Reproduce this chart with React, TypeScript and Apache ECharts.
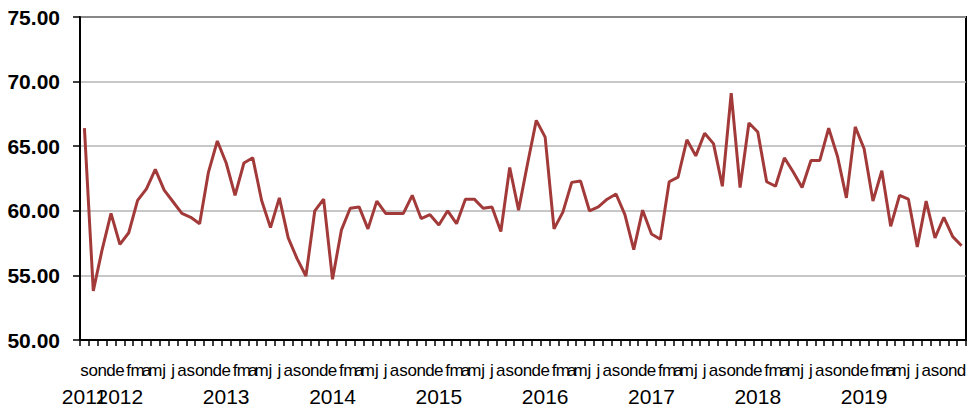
import React, { useEffect, useRef } from "react";
import * as echarts from "echarts";

const monthLetters = ["e", "f", "m", "a", "m", "j", "j", "a", "s", "o", "n", "d"];
const startYear = 2011;
const startMonth = 8; // September (0-based)

const values2011 = [66.4, 53.8, 57.0, 59.8];
const values2012 = [57.4, 58.3, 60.8, 61.7, 63.2, 61.6, 60.7, 59.8, 59.5, 59.0, 63.0, 65.4];
const values2013 = [63.7, 61.2, 63.7, 64.1, 60.8, 58.7, 61.0, 57.9, 56.3, 54.95, 60.0, 60.9];
const values2014 = [54.7, 58.5, 60.2, 60.3, 58.6, 60.75, 59.8, 59.8, 59.8, 61.2, 59.4, 59.7];
const values2015 = [58.9, 60.0, 59.0, 60.9, 60.9, 60.2, 60.3, 58.4, 63.35, 60.05, 63.6, 67.0];
const values2016 = [65.7, 58.6, 59.9, 62.2, 62.3, 60.0, 60.3, 60.9, 61.3, 59.7, 57.0, 60.05];
const values2017 = [58.2, 57.8, 62.25, 62.6, 65.5, 64.25, 66.0, 65.2, 61.9, 69.1, 61.8, 66.8];
const values2018 = [66.1, 62.25, 61.9, 64.1, 63.0, 61.8, 63.9, 63.9, 66.4, 64.2, 61.0, 66.5];
const values2019 = [64.8, 60.75, 63.1, 58.8, 61.2, 60.9, 57.2, 60.75, 57.9, 59.5, 58.0, 57.3];

const seriesValues = [
  ...values2011,
  ...values2012,
  ...values2013,
  ...values2014,
  ...values2015,
  ...values2016,
  ...values2017,
  ...values2018,
  ...values2019,
];

const categories: string[] = seriesValues.map((_, i) => {
  const m = (startMonth + i) % 12;
  const y = startYear + Math.floor((startMonth + i) / 12);
  return `${y}-${m}`;
});

const yTicks = [50, 55, 60, 65, 70, 75];
const FONT = "'Liberation Sans', Arial, sans-serif";

export default function App() {
  const ref = useRef<HTMLDivElement>(null);
  useEffect(() => {
    if (!ref.current) return;
    const chart = echarts.init(ref.current, null, { renderer: "svg" });
    chart.setOption({
      animation: false,
      grid: {
        left: 80,
        right: 6,
        top: 17,
        bottom: 70,
        show: true,
        borderColor: "#000",
        borderWidth: 2,
      },
      xAxis: [
        {
          type: "category",
          data: categories,
          boundaryGap: true,
          position: "bottom",
          axisLine: { lineStyle: { color: "#000", width: 2 } },
          axisTick: { show: true, inside: false, length: 6, lineStyle: { color: "#000", width: 1.5 }, interval: 0 },
          axisLabel: {
            interval: 0,
            hideOverlap: false,
            margin: 22,
            fontFamily: FONT,
            fontSize: 17,
            color: "#000",
            formatter: (val: string) => monthLetters[Number(val.split("-")[1])],
          },
          splitLine: { show: false },
        },
        {
          type: "category",
          data: categories,
          boundaryGap: true,
          position: "bottom",
          axisLine: { show: false },
          axisTick: { show: false },
          axisLabel: {
            interval: 0,
            hideOverlap: false,
            margin: 46,
            fontFamily: FONT,
            fontSize: 21,
            color: "#000",
            formatter: (val: string, idx: number) => {
              const [y, m] = val.split("-").map(Number);
              return m === 0 || idx === 0 ? String(y) : "";
            },
          },
          splitLine: { show: false },
        },
      ],
      yAxis: {
        type: "value",
        min: yTicks[0],
        max: yTicks[yTicks.length - 1],
        interval: 5,
        axisLine: { show: true, lineStyle: { color: "#000", width: 2 } },
        axisTick: { show: true, length: 7, lineStyle: { color: "#000", width: 1.5 } },
        axisLabel: {
          margin: 20,
          formatter: (v: number) => v.toFixed(2),
          fontFamily: FONT,
          fontWeight: "bold",
          fontSize: 21,
          color: "#000",
        },
        splitLine: { show: true, lineStyle: { color: "#b4b4b4", width: 1.5 } },
      },
      series: [
        {
          type: "line",
          data: seriesValues,
          symbol: "none",
          xAxisIndex: 0,
          lineStyle: { color: "#A33A3A", width: 3 },
          itemStyle: { color: "#A33A3A" },
        },
      ],
    });
    return () => chart.dispose();
  }, []);
  return <div ref={ref} style={{ width: 972, height: 410, position: "absolute", left: 0, top: 0 }} />;
}
